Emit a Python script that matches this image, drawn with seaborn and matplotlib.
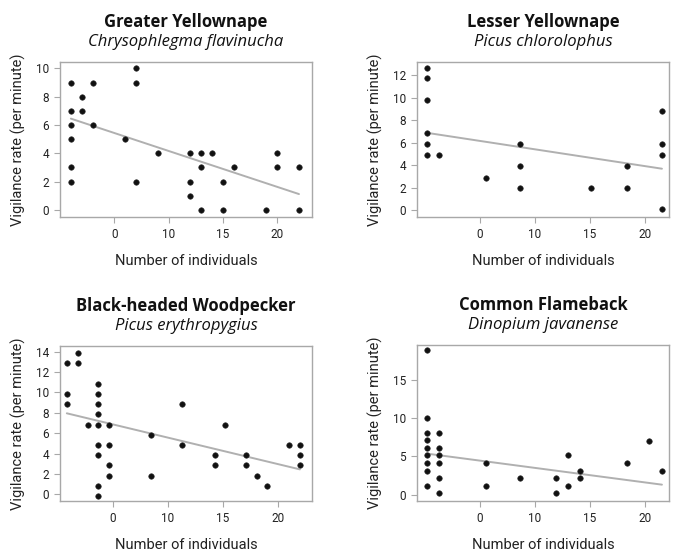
import matplotlib
matplotlib.use("Agg")
import matplotlib.pyplot as plt
import seaborn as sns
import pandas as pd

# Greater Yellownape
gy_x = [1, 1, 1, 1, 1, 1, 2, 2, 3, 3, 6, 7, 7, 7, 9, 12, 12, 12, 13, 13, 13, 14, 15, 15, 16, 19, 20, 20, 22, 22]
gy_y = [9, 7, 6, 5, 3, 2, 8, 7, 9, 6, 5, 10, 9, 2, 4, 4, 2, 1, 4, 3, 0, 4, 2, 0, 3, 0, 4, 3, 3, 0]
gy_fit_x = [1, 22]
gy_fit_y = [6.45, 1.12]

# Lesser Yellownape
ly_x = [0.2, 0.2, 0.2, 0.2, 0.2, 0.2, 1.3, 5.6, 8.7, 8.7, 8.7, 15.1, 18.3, 18.3, 21.5, 21.5, 21.5, 21.5]
ly_y = [12.7, 11.75, 9.85, 6.9, 5.9, 4.95, 4.95, 2.9, 5.9, 3.9, 2.0, 2.0, 3.9, 2.0, 8.8, 5.9, 4.9, 0.1]
ly_fit_x = [0.2, 21.5]
ly_fit_y = [6.9, 3.7]

# Black-headed Woodpecker
bw_x = [0.8, 0.8, 0.8, 1.8, 1.8, 2.7,
        3.6, 3.6, 3.6, 3.6, 3.6, 3.6, 3.6, 3.6, 3.6,
        4.6, 4.6, 4.6, 4.6, 8.5, 8.5, 11.3, 11.3, 14.3, 14.3, 15.2,
        17.1, 17.1, 18.1, 19.0, 21.0, 22.0, 22.0, 22.0]
bw_y = [12.85, 9.85, 8.85, 13.85, 12.85, 6.85,
        10.85, 9.85, 8.85, 7.85, 6.85, 4.85, 3.85, 0.85, -0.15,
        6.85, 4.85, 2.85, 1.85, 5.85, 1.85, 8.85, 4.85, 3.85, 2.85, 6.85,
        3.85, 2.85, 1.85, 0.85, 4.85, 4.85, 3.85, 2.85]
bw_fit_x = [0.8, 22.0]
bw_fit_y = [7.95, 2.45]

# Common Flameback
cf_x = [0.2, 0.2, 0.2, 0.2, 0.2, 0.2, 0.2, 0.2, 0.2,
        1.3, 1.3, 1.3, 1.3, 1.3, 1.3,
        5.6, 5.6, 8.7, 11.9, 11.9, 13.0, 13.0, 14.1, 14.1, 18.3, 20.3, 21.5]
cf_y = [18.85, 10.0, 8.05, 7.1, 6.1, 5.1, 4.1, 3.1, 1.15,
        8.05, 6.1, 5.1, 4.1, 2.15, 0.2,
        4.1, 1.15, 2.15, 2.15, 0.2, 5.1, 1.15, 3.1, 2.15, 4.1, 7.05, 3.1]
cf_fit_x = [0.2, 21.5]
cf_fit_y = [5.35, 1.3]

x_ticks = [5, 10, 15, 20]
x_tick_labels = ["0", "10", "15", "20"]

panels = [
    ("Greater Yellownape", "Chrysophlegma flavinucha", gy_x, gy_y, gy_fit_x, gy_fit_y,
     [0, 2, 4, 6, 8, 10], (0.0, 23.2), (-0.5, 10.45), [60, 62, 312, 217]),
    ("Lesser Yellownape", "Picus chlorolophus", ly_x, ly_y, ly_fit_x, ly_fit_y,
     [0, 2, 4, 6, 8, 10, 12], (-0.66, 22.14), (-0.6, 13.2), [417, 62, 669, 217]),
    ("Black-headed Woodpecker", "Picus erythropygius", bw_x, bw_y, bw_fit_x, bw_fit_y,
     [0, 2, 4, 6, 8, 10, 12, 14], (0.18, 23.1), (-0.65, 14.55), [60, 346, 312, 501]),
    ("Common Flameback", "Dinopium javanense", cf_x, cf_y, cf_fit_x, cf_fit_y,
     [0, 5, 10, 15], (-0.66, 22.14), (-0.83, 19.5), [417, 345, 669, 501]),
]

sns.set_theme(style="white")
plt.rcParams["font.family"] = ["Roboto", "DejaVu Sans"]

W, H = 674, 553
fig = plt.figure(figsize=(W / 100, H / 100), dpi=100)

frame_col = "#a8a8a8"

for title, latin, xs, ys, fx, fy, yticks, xlim, ylim, box in panels:
    l, t, r, b = box
    ax = fig.add_axes([l / W, 1 - b / H, (r - l) / W, (b - t) / H])
    df = pd.DataFrame({"n": xs, "rate": ys})
    fit = pd.DataFrame({"n": fx, "rate": fy})
    sns.lineplot(data=fit, x="n", y="rate", ax=ax, color="#b0b0b0", linewidth=1.4)
    sns.scatterplot(data=df, x="n", y="rate", ax=ax, color="#111111", s=16,
                    marker="o", edgecolor="#333333", linewidth=0.4, zorder=3)
    ax.set_xlim(*xlim)
    ax.set_ylim(*ylim)
    ax.set_xticks(x_ticks)
    ax.set_xticklabels(x_tick_labels)
    ax.set_yticks(yticks)
    ax.tick_params(axis="both", which="both", length=4, width=0.8, color=frame_col,
                   labelsize=8.5, pad=4, direction="out", left=True, bottom=True,
                   labelcolor="#222222")
    for sp in ax.spines.values():
        sp.set_color(frame_col)
        sp.set_linewidth(1.0)
    ax.set_xlabel("Number of individuals", fontsize=10.5, labelpad=9, color="#222222")
    ax.set_ylabel("Vigilance rate (per minute)", fontsize=10.5, labelpad=7, color="#222222")
    cx = (l + r) / 2 / W
    fig.text(cx, 1 - (t - 40) / H, title, ha="center", va="center", fontsize=12,
             fontweight="bold", family=["Open Sans", "DejaVu Sans"], color="#111111")
    fig.text(cx, 1 - (t - 20) / H, latin, ha="center", va="center", fontsize=12,
             style="italic", family=["Open Sans", "DejaVu Sans"], color="#111111")

fig.savefig("out.png", dpi=100)
